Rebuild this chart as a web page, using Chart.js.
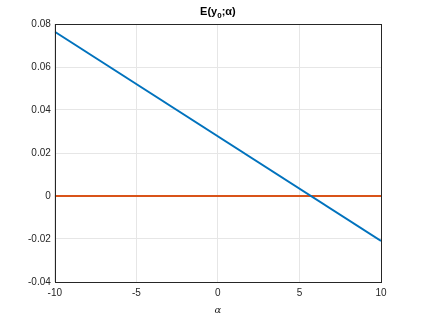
<html lang="en">
<head>
    <meta charset="UTF-8"></meta>
    <style>
        body { margin: 0; background-color: #fff; }
        #wrap { width: 421px; height: 316px; }
    </style>
    <script src="https://cdn.jsdelivr.net/npm/chart.js"></script>
</head>
<body>
<div id="wrap"><canvas id="errChart" width="421" height="316"></canvas></div>
<script>
    // data
    const alphaVals = [-10, 10];
    const errorVals = [0.0764, -0.0209];
    const zeroVals = [0, 0];
    const xTicks = [-10, -5, 0, 5, 10];
    const yTicks = [-0.04, -0.02, 0, 0.02, 0.04, 0.06, 0.08];

    const sansFam = "'Liberation Sans', Arial, sans-serif";
    const tickFont = { family: sansFam, size: 10 };

    // draws the full box round the axes and the title with a real subscript
    const boxPlugin = {
        id: "box",
        afterDraw(chart) {
            const a = chart.chartArea;
            const ctx = chart.ctx;
            ctx.save();
            ctx.strokeStyle = "#262626";
            ctx.lineWidth = 1;
            ctx.strokeRect(Math.round(a.left) + 0.5, Math.round(a.top) + 0.5,
                Math.round(a.right - a.left), Math.round(a.bottom - a.top));

            // title: E(y_0;α)
            const parts = [
                { t: "E(y", size: 11, dy: 0 },
                { t: "0", size: 8, dy: 3 },
                { t: ";\u03b1)", size: 11, dy: 0 }
            ];
            let total = 0;
            parts.forEach(p => {
                ctx.font = "bold " + p.size + "px " + sansFam;
                p.w = ctx.measureText(p.t).width;
                total += p.w;
            });
            let x = (a.left + a.right) / 2 - total / 2;
            const base = a.top - 9;
            ctx.fillStyle = "#000";
            ctx.textBaseline = "alphabetic";
            ctx.textAlign = "left";
            parts.forEach(p => {
                ctx.font = "bold " + p.size + "px " + sansFam;
                ctx.fillText(p.t, x, base + p.dy);
                x += p.w;
            });
            ctx.restore();
        }
    };

    new Chart(document.getElementById("errChart"), {
        type: "line",
        data: {
            datasets: [
                {
                    data: alphaVals.map((x, i) => ({ x: x, y: errorVals[i] })),
                    borderColor: "#0072BD",
                    borderWidth: 2,
                    pointRadius: 0
                },
                {
                    data: alphaVals.map((x, i) => ({ x: x, y: zeroVals[i] })),
                    borderColor: "#D95319",
                    borderWidth: 2,
                    pointRadius: 0
                }
            ]
        },
        options: {
            responsive: false,
            animation: false,
            layout: { padding: { left: 24, right: 40, top: 24, bottom: 0 } },
            plugins: {
                legend: { display: false },
                tooltip: { enabled: false },
                title: { display: false }
            },
            scales: {
                x: {
                    type: "linear",
                    min: -10,
                    max: 10,
                    afterBuildTicks: (axis) => { axis.ticks = xTicks.map(v => ({ value: v })); },
                    grid: { color: "#e6e6e6", drawTicks: false },
                    border: { display: false },
                    ticks: { color: "#262626", font: tickFont, padding: 5, maxRotation: 0 },
                    title: {
                        display: true,
                        text: "\u03b1",
                        color: "#262626",
                        font: { family: "'DejaVu Serif', serif", size: 10, style: "italic" },
                        padding: { top: 0, bottom: 0 }
                    }
                },
                y: {
                    min: -0.04,
                    max: 0.08,
                    afterBuildTicks: (axis) => { axis.ticks = yTicks.map(v => ({ value: v })); },
                    grid: { color: "#e6e6e6", drawTicks: false },
                    border: { display: false },
                    ticks: {
                        color: "#262626",
                        font: tickFont,
                        padding: 4,
                        callback: (v) => (Math.abs(v) < 1e-9 ? "0" : Number(v).toFixed(2))
                    }
                }
            }
        },
        plugins: [boxPlugin]
    });
</script>
</body>
</html>
